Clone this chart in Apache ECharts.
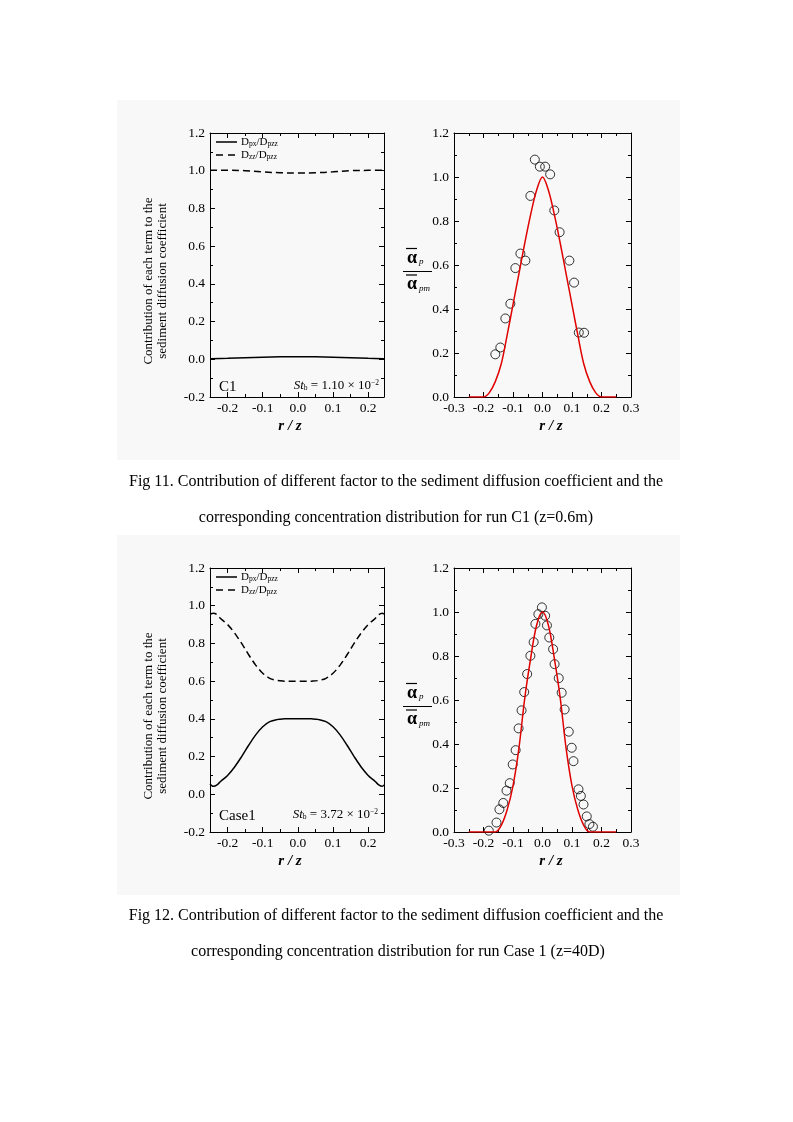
<!DOCTYPE html>
<html><head><meta charset="utf-8">
<script src="https://cdn.jsdelivr.net/npm/echarts@6/dist/echarts.min.js"></script>
<style>
html,body{margin:0;padding:0;background:#fff;}
#wrap{position:relative;width:793px;height:1122px;}
.bg{position:absolute;background:#f8f8f8;}
#chart{position:absolute;left:0;top:0;width:793px;height:1122px;}
</style></head><body>
<div id="wrap">
<div class="bg" style="left:117px;top:100px;width:563px;height:360px"></div>
<div class="bg" style="left:117px;top:535px;width:563px;height:360px"></div>
<div id="chart"></div>
</div>
<script>
// ---------- DATA ----------
// Fig 11 left (C1)
const p1X = [-0.25,-0.2,-0.15,-0.1,-0.05,0,0.05,0.1,0.15,0.2,0.245];
const p1Solid = [0.003,0.005,0.008,0.011,0.013,0.014,0.013,0.011,0.008,0.005,0.003];
const p1Dashed = [1.003,1.003,1.0,0.994,0.989,0.988,0.989,0.994,1.0,1.002,1.003];
// Fig 11 right (C1)
const p2PtX = [-0.160,-0.143,-0.126,-0.109,-0.092,-0.075,-0.058,-0.041,-0.026,-0.009,0.009,0.026,0.040,0.058,0.091,0.107,0.123,0.141];
const p2PtY = [0.194,0.225,0.357,0.424,0.586,0.652,0.620,0.914,1.079,1.047,1.047,1.012,0.848,0.749,0.620,0.520,0.293,0.292];
const p2CurveX = [-0.25,-0.2,-0.18,-0.16,-0.14,-0.12,-0.1,-0.08,-0.06,-0.04,-0.02,0,0.02,0.04,0.06,0.08,0.1,0.12,0.14,0.16,0.18,0.2,0.25];
const p2CurveY = [0,0,0.02,0.07,0.15,0.28,0.42,0.56,0.70,0.83,0.94,1.0,0.94,0.83,0.70,0.56,0.42,0.28,0.15,0.07,0.02,0,0];
// Fig 12 left (Case1)
const p3X = [-0.25,-0.24,-0.23,-0.22,-0.2,-0.18,-0.16,-0.14,-0.12,-0.1,-0.08,-0.06,-0.04,-0.02,0,0.02,0.04,0.06,0.08,0.1,0.12,0.14,0.16,0.18,0.2,0.22,0.23,0.24,0.245];
const p3Solid = [0.055,0.042,0.05,0.068,0.1,0.145,0.2,0.26,0.315,0.358,0.385,0.396,0.4,0.401,0.401,0.401,0.4,0.396,0.385,0.358,0.315,0.26,0.2,0.145,0.1,0.068,0.05,0.042,0.05];
const p3Dashed = [0.955,0.96,0.952,0.932,0.9,0.855,0.8,0.74,0.685,0.642,0.615,0.604,0.6,0.599,0.599,0.599,0.6,0.604,0.615,0.642,0.685,0.74,0.8,0.855,0.9,0.932,0.952,0.96,0.955];
// Fig 12 right (Case1)
const p4PtX = [-0.182,-0.156,-0.146,-0.133,-0.122,-0.111,-0.101,-0.091,-0.081,-0.071,-0.062,-0.052,-0.041,-0.030,-0.024,-0.014,-0.002,0.009,0.015,0.023,0.036,0.041,0.055,0.065,0.075,0.089,0.099,0.105,0.122,0.130,0.139,0.150,0.159,0.171];
const p4PtY = [0.006,0.043,0.103,0.132,0.188,0.222,0.307,0.372,0.471,0.553,0.636,0.718,0.801,0.863,0.946,0.990,1.021,0.983,0.939,0.884,0.831,0.763,0.699,0.633,0.557,0.456,0.383,0.322,0.194,0.164,0.125,0.071,0.036,0.024];
const p4CurveX = [-0.25,-0.16,-0.14,-0.12,-0.1,-0.08,-0.06,-0.04,-0.02,0,0.02,0.04,0.06,0.08,0.1,0.12,0.14,0.16,0.25];
const p4CurveY = [0,0,0.03,0.10,0.21,0.38,0.61,0.79,0.94,1.0,0.94,0.79,0.61,0.38,0.21,0.10,0.03,0,0];
// tick labels
const leftXMajor = [-0.2,-0.1,0,0.1,0.2];

// ---------- CHART ----------
const SERIF = "'Liberation Serif','Times New Roman',serif";
const tickFont = {color:'#000', fontFamily:SERIF, fontSize:13.5};
const LS = {color:'#000', width:1};
const zip = (xs, ys) => xs.map((x,i)=>[x, ys[i]]);
const fmt1 = v => Math.abs(v) < 1e-9 ? '0.0' : v.toFixed(1);
const fmtEvery = v => { const r = Math.round(v*10); return Math.abs(v*10 - r) < 1e-6 ? (r===0?'0.0':(r/10).toFixed(1)) : ''; };

const panels = [
  {grid:{left:210, top:133, width:174, height:264}, xMin:-0.25, xMax:0.245, xStep:0.05, xMajor:leftXMajor, yMin:-0.2, yMax:1.2},
  {grid:{left:454, top:133, width:177, height:264}, xMin:-0.3, xMax:0.3, xStep:0.1, xMajor:null, yMin:0, yMax:1.2},
  {grid:{left:210, top:568, width:174, height:264}, xMin:-0.25, xMax:0.245, xStep:0.05, xMajor:leftXMajor, yMin:-0.2, yMax:1.2},
  {grid:{left:454, top:568, width:177, height:264}, xMin:-0.3, xMax:0.3, xStep:0.1, xMajor:null, yMin:0, yMax:1.2}
];
const grid = [], xAxis = [], yAxis = [];
panels.forEach((p,i) => {
  grid.push(Object.assign({show:false, outerBoundsMode:'none', containLabel:false}, p.grid));
  p.xIndex = xAxis.length;
  const base = {gridIndex:i, type:'value', min:p.xMin, max:p.xMax, interval:p.xStep, splitLine:{show:false}};
  ['bottom','top'].forEach(pos => {
    xAxis.push(Object.assign({}, base, {
      position:pos,
      axisLine:{show:true, onZero:false, lineStyle:LS},
      axisTick:{show:true, inside:true, length: p.xMajor ? 3 : 5, lineStyle:LS},
      minorTick: p.xMajor ? {show:false} : {show:true, splitNumber:2, length:3, lineStyle:LS},
      axisLabel: pos==='bottom' ? Object.assign({show:true, margin:4, formatter: p.xMajor ? fmtEvery : fmt1}, tickFont) : {show:false}
    }));
    if (p.xMajor) {
      xAxis.push(Object.assign({}, base, {
        position:pos,
        axisLine:{show:false, onZero:false},
        axisTick:{show:true, inside:true, length:5, customValues:p.xMajor, lineStyle:LS},
        axisLabel:{show:false}
      }));
    }
  });
  p.yIndex = yAxis.length;
  ['left','right'].forEach(pos => {
    yAxis.push({
      gridIndex:i, type:'value', position:pos, min:p.yMin, max:p.yMax, interval:0.2,
      splitLine:{show:false},
      axisLine:{show:true, onZero:false, lineStyle:LS},
      axisTick:{show:true, inside:true, length:5, lineStyle:LS},
      minorTick:{show:true, splitNumber:2, length:3, lineStyle:LS},
      axisLabel: pos==='left' ? Object.assign({show:true, margin:5, formatter:fmt1}, tickFont) : {show:false}
    });
  });
});

function lineSeries(p, xs, ys, color, dashed) {
  return {type:'line', xAxisIndex:p.xIndex, yAxisIndex:p.yIndex, data:zip(xs,ys), showSymbol:false, symbol:'none',
    smooth:0.35, lineStyle:{color:color, width:1.5, type: dashed ? [7,4] : 'solid'}, silent:true, z:3};
}
function scatterSeries(p, xs, ys) {
  return {type:'scatter', xAxisIndex:p.xIndex, yAxisIndex:p.yIndex, data:zip(xs,ys), symbol:'circle', symbolSize:9,
    itemStyle:{color:'rgba(0,0,0,0)', borderColor:'#000', borderWidth:1}, silent:true, z:2};
}
const series = [
  lineSeries(panels[0], p1X, p1Solid, '#000', false),
  lineSeries(panels[0], p1X, p1Dashed, '#000', true),
  scatterSeries(panels[1], p2PtX, p2PtY),
  lineSeries(panels[1], p2CurveX, p2CurveY, '#e00000', false),
  lineSeries(panels[2], p3X, p3Solid, '#000', false),
  lineSeries(panels[2], p3X, p3Dashed, '#000', true),
  scatterSeries(panels[3], p4PtX, p4PtY),
  lineSeries(panels[3], p4CurveX, p4CurveY, '#e00000', false)
];

// ---------- TEXT / DECORATION ----------
const graphic = [];
function txt(x, y, text, extra) {
  graphic.push({type:'text', x:x, y:y, silent:true, z:10, style:Object.assign({text:text, fill:'#000', fontFamily:SERIF, fontSize:13, textAlign:'center', textVerticalAlign:'middle'}, extra||{})});
}
function seg(x1, y1, x2, y2, extra) {
  graphic.push({type:'line', silent:true, z:10, shape:{x1:x1,y1:y1,x2:x2,y2:y2}, style:Object.assign({stroke:'#000', lineWidth:1.5}, extra||{})});
}
const subRich = {
  D:{fontFamily:SERIF, fontSize:11, fill:'#000'},
  s:{fontFamily:SERIF, fontSize:7.5, fill:'#000', padding:[5,0,0,0]}
};
[0, 435].forEach((dy, k) => {
  // y axis name (left)
  graphic.push({type:'text', x:156, y:281+dy, rotation:Math.PI/2, silent:true, z:10,
    style:{text:'Contribution of each term to the\nsediment diffusion coefficient', fill:'#000', fontFamily:SERIF, fontSize:13, lineHeight:14, textAlign:'center', textVerticalAlign:'middle'}});
  // x axis names
  txt(290, 426+dy, 'r / z', {fontSize:15, fontStyle:'italic', fontWeight:'bold'});
  txt(551, 426+dy, 'r / z', {fontSize:15, fontStyle:'italic', fontWeight:'bold'});
  // legend
  seg(216, 142+dy, 237, 142+dy);
  seg(216, 155+dy, 237, 155+dy, {lineDash:[7,5]});
  txt(241, 142+dy, '{D|D}{s|px}{D|/D}{s|pzz}', {textAlign:'left', rich:subRich});
  txt(241, 155+dy, '{D|D}{s|zz}{D|/D}{s|pzz}', {textAlign:'left', rich:subRich});
  // right-panel y label: alpha_p / alpha_pm
  txt(412, 258+dy, 'α', {fontSize:18, fontWeight:'bold'});
  seg(406, 248.5+dy, 417, 248.5+dy, {lineWidth:1.2});
  txt(419, 262+dy, 'p', {fontSize:9, fontStyle:'italic', textAlign:'left'});
  seg(403, 271.5+dy, 432, 271.5+dy, {lineWidth:1});
  txt(412, 284+dy, 'α', {fontSize:18, fontWeight:'bold'});
  seg(406, 275+dy, 417, 275+dy, {lineWidth:1.2});
  txt(419, 289+dy, 'pm', {fontSize:9, fontStyle:'italic', textAlign:'left'});
});
// panel annotations
txt(219, 387, 'C1', {fontSize:15, textAlign:'left'});
txt(219, 816, 'Case1', {fontSize:15, textAlign:'left'});
const stRich = {
  i:{fontFamily:SERIF, fontSize:13, fontStyle:'italic', fill:'#000'},
  b:{fontFamily:SERIF, fontSize:7.5, fill:'#000', padding:[5,0,0,0]},
  n:{fontFamily:SERIF, fontSize:13, fill:'#000'},
  e:{fontFamily:SERIF, fontSize:7.5, fill:'#000', padding:[0,0,6,0]}
};
txt(379, 386, '{i|St}{b|b}{n| = 1.10 × 10}{e|−2}', {textAlign:'right', rich:stRich});
txt(378, 815, '{i|St}{b|b}{n| = 3.72 × 10}{e|−2}', {textAlign:'right', rich:stRich});
// captions
const capStyle = {fontSize:16};
txt(396, 482, 'Fig 11. Contribution of different factor to the sediment diffusion coefficient and the', capStyle);
txt(396, 518, 'corresponding concentration distribution for run C1 (z=0.6m)', capStyle);
txt(396, 916, 'Fig 12. Contribution of different factor to the sediment diffusion coefficient and the', capStyle);
txt(398, 952, 'corresponding concentration distribution for run Case 1 (z=40D)', capStyle);

const chart = echarts.init(document.getElementById('chart'), null, {renderer:'canvas', width:793, height:1122});
chart.setOption({
  animation:false,
  backgroundColor:'transparent',
  grid:grid, xAxis:xAxis, yAxis:yAxis, series:series, graphic:graphic
});
</script>
</body></html>
